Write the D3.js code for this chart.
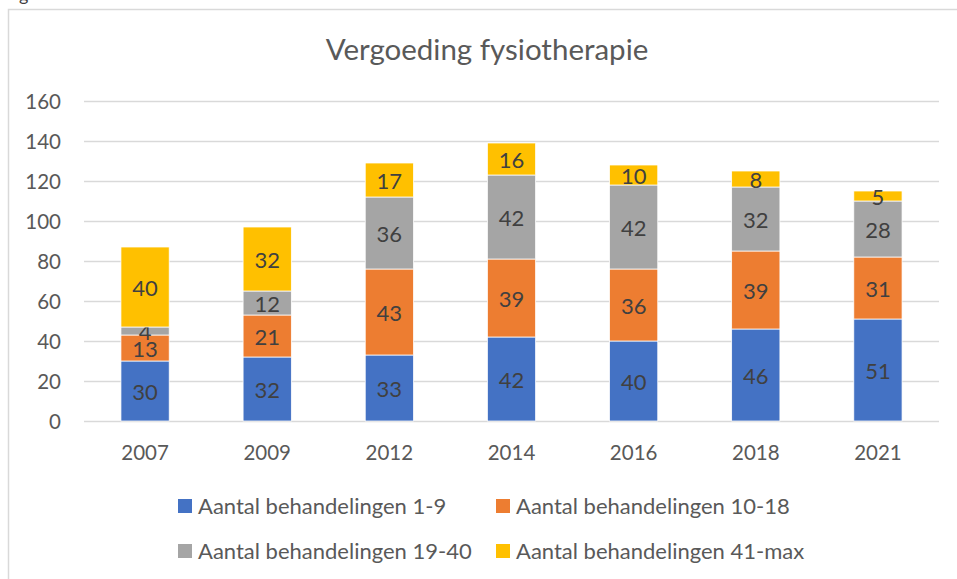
<!DOCTYPE html>
<html><head><meta charset="utf-8">
<script src="https://cdn.jsdelivr.net/npm/d3@7"></script>
<style>body{margin:0;background:#fff}svg{display:block}</style>
</head><body>
<svg id="c" width="957" height="579"></svg>
<script>
const years = ["2007","2009","2012","2014","2016","2018","2021"];
const seriesNames = ["Aantal behandelingen 1-9","Aantal behandelingen 10-18","Aantal behandelingen 19-40","Aantal behandelingen 41-max"];
const s1 = [30,32,33,42,40,46,51];
const s2 = [13,21,43,39,36,39,31];
const s3 = [4,12,36,42,42,32,28];
const s4 = [40,32,17,16,10,8,5];
const yTicks = [0,20,40,60,80,100,120,140,160];
const colors = ["#4472C4","#ED7D31","#A5A5A5","#FFC000"];

const font = "Lato, 'Open Sans', sans-serif";
const svg = d3.select("#c");
svg.append("rect").attr("x",8.5).attr("y",9.5).attr("width",960).attr("height",600)
  .attr("fill","#fff").attr("stroke","#D9D9D9").attr("stroke-width",1.5);
svg.append("text").attr("x",19).attr("y",1).attr("font-family",font).attr("font-size",18).attr("fill","#404040").text("g");

const x = d3.scaleBand().domain(years).range([84,939]).paddingInner(0.605).paddingOuter(0.3025);
const y = d3.scaleLinear().domain([0,160]).range([421,101]);

svg.append("text").attr("x",487).attr("y",60).attr("text-anchor","middle")
  .attr("font-family",font).attr("font-size",29.5).attr("fill","#595959").text("Vergoeding fysiotherapie");

svg.append("g").selectAll("line").data(yTicks).join("line")
  .attr("x1",84).attr("x2",939).attr("y1",d=>y(d)+0.5).attr("y2",d=>y(d)+0.5)
  .attr("stroke","#D9D9D9").attr("stroke-width",1.5);

svg.append("g").selectAll("text").data(yTicks).join("text")
  .attr("x",61).attr("y",d=>y(d)+7.5).attr("text-anchor","end")
  .attr("font-family",font).attr("font-size",20.5).attr("fill","#595959").text(d=>d);

svg.append("g").selectAll("text").data(years).join("text")
  .attr("x",d=>x(d)+x.bandwidth()/2).attr("y",460).attr("text-anchor","middle")
  .attr("font-family",font).attr("font-size",20.5).attr("fill","#595959").text(d=>d);

const rows = years.map((yr,i)=>({year:yr, a:s1[i], b:s2[i], c:s3[i], d:s4[i]}));
const stack = d3.stack().keys(["a","b","c","d"])(rows);
stack.forEach((layer,k)=>{
  const g = svg.append("g");
  g.selectAll("rect").data(layer).join("rect")
    .attr("x",d=>x(d.data.year)).attr("width",x.bandwidth())
    .attr("y",d=>y(d[1])).attr("height",d=>y(d[0])-y(d[1]))
    .attr("fill",colors[k]).attr("stroke","#fff").attr("stroke-width",0.75);
  g.selectAll("text").data(layer).join("text")
    .attr("x",d=>x(d.data.year)+x.bandwidth()/2).attr("y",d=>(y(d[0])+y(d[1]))/2+8.5)
    .attr("text-anchor","middle").attr("font-family",font).attr("font-size",22).attr("fill","#404040")
    .text(d=>d[1]-d[0]);
});

const legPos = [[178,506],[496,506],[178,551],[496,551]];
seriesNames.forEach((n,i)=>{
  const [lx,ly] = legPos[i];
  svg.append("rect").attr("x",lx).attr("y",ly-7).attr("width",14).attr("height",14).attr("fill",colors[i]);
  svg.append("text").attr("x",lx+20).attr("y",ly+7.5).attr("font-family",font).attr("font-size",22)
    .attr("fill","#595959").text(n);
});
</script>
</body></html>
